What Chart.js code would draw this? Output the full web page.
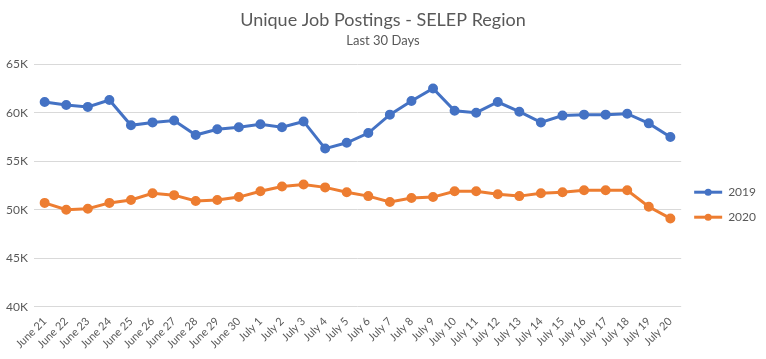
<!DOCTYPE html>
<html>
<head>
<meta charset="utf-8">
<script src="https://cdn.jsdelivr.net/npm/chart.js@4"></script>
<style>
  html, body { margin: 0; padding: 0; background: #fff; }
  #wrap { width: 766px; height: 359px; }
</style>
</head>
<body>
<div id="wrap"><canvas id="myChart"></canvas></div>
<script>
var days = [
  "June 21", "June 22", "June 23", "June 24", "June 25", "June 26", "June 27", "June 28", "June 29", "June 30",
  "July 1", "July 2", "July 3", "July 4", "July 5", "July 6", "July 7", "July 8", "July 9", "July 10",
  "July 11", "July 12", "July 13", "July 14", "July 15", "July 16", "July 17", "July 18", "July 19", "July 20"
];
var postings2019 = [
  61100, 60800, 60600, 61300, 58700, 59000, 59200, 57700, 58300, 58500,
  58800, 58500, 59100, 56300, 56900, 57900, 59800, 61200, 62500, 60200,
  60000, 61100, 60100, 59000, 59700, 59800, 59800, 59900, 58900, 57500
];
var postings2020 = [
  50700, 50000, 50100, 50700, 51000, 51700, 51500, 50900, 51000, 51300,
  51900, 52400, 52600, 52300, 51800, 51400, 50800, 51200, 51300, 51900,
  51900, 51600, 51400, 51700, 51800, 52000, 52000, 52000, 50300, 49100
];
var seriesNames = ["2019", "2020"];
var lineColors = ["#4472C4", "#ED7D31"];

var fontFamily = "Lato, 'Open Sans', sans-serif";
var textColor = "#595959";

// legend markers like Excel: short line with a dot in the middle
const legendMarkers = {
    id: 'legend_markers',
    afterDraw: (chart) => {
        const {ctx} = chart;
        const legend = chart.legend;
        if (!legend || !legend.legendHitBoxes) return;
        ctx.save();
        legend.legendHitBoxes.forEach((box, i) => {
            const ds = chart.data.datasets[i];
            const y = box.top + box.height / 2;
            const x0 = box.left;
            const x1 = box.left + 28;
            ctx.strokeStyle = ds.borderColor;
            ctx.lineWidth = 3;
            ctx.beginPath();
            ctx.moveTo(x0, y);
            ctx.lineTo(x1, y);
            ctx.stroke();
            ctx.fillStyle = ds.borderColor;
            ctx.beginPath();
            ctx.arc((x0 + x1) / 2, y, 3.5, 0, Math.PI * 2);
            ctx.fill();
        });
        ctx.restore();
    }
};

new Chart("myChart", {
    type: "line",
    plugins: [legendMarkers],
    data: {
        labels: days,
        datasets: [{
            label: seriesNames[0],
            data: postings2019,
            borderColor: lineColors[0],
            backgroundColor: lineColors[0],
            borderWidth: 3,
            pointRadius: 3.5,
            pointHoverRadius: 3.5,
            tension: 0
        }, {
            label: seriesNames[1],
            data: postings2020,
            borderColor: lineColors[1],
            backgroundColor: lineColors[1],
            borderWidth: 3,
            pointRadius: 3.5,
            pointHoverRadius: 3.5,
            tension: 0
        }]
    },
    options: {
        responsive: true,
        maintainAspectRatio: false,
        animation: false,
        layout: { padding: { left: 0, right: 0, top: 9, bottom: 8 } },
        plugins: {
            title: {
                display: true,
                text: "Unique Job Postings - SELEP Region",
                color: textColor,
                font: { family: fontFamily, size: 18, weight: 'normal' },
                padding: { top: 0, bottom: 2 }
            },
            subtitle: {
                display: true,
                text: "Last 30 Days",
                color: textColor,
                font: { family: fontFamily, size: 13, weight: 'normal' },
                padding: { top: 0, bottom: 16 }
            },
            legend: {
                position: 'right',
                title: {
                    display: true,
                    text: " ",
                    font: { family: fontFamily, size: 12 },
                    padding: { top: 0, bottom: 35 }
                },
                labels: {
                    color: textColor,
                    font: { family: fontFamily, size: 12 },
                    boxWidth: 28,
                    boxHeight: 8,
                    padding: 13,
                    generateLabels: (chart) => chart.data.datasets.map((ds, i) => ({
                        text: ds.label,
                        fillStyle: 'rgba(0,0,0,0)',
                        strokeStyle: 'rgba(0,0,0,0)',
                        lineWidth: 0,
                        fontColor: textColor,
                        datasetIndex: i
                    }))
                }
            },
            tooltip: { enabled: false }
        },
        scales: {
            x: {
                offset: true,
                grid: { display: false },
                border: { display: false },
                ticks: {
                    color: textColor,
                    font: { family: fontFamily, size: 11 },
                    maxRotation: 45,
                    minRotation: 45,
                    autoSkip: false,
                    padding: 0
                }
            },
            y: {
                min: 40000,
                max: 65000,
                grid: { color: "#d9d9d9", drawTicks: false },
                border: { display: false },
                ticks: {
                    stepSize: 5000,
                    color: textColor,
                    font: { family: fontFamily, size: 12 },
                    padding: 6,
                    callback: (v) => (v / 1000) + "K"
                }
            }
        }
    }
});
</script>
</body>
</html>
